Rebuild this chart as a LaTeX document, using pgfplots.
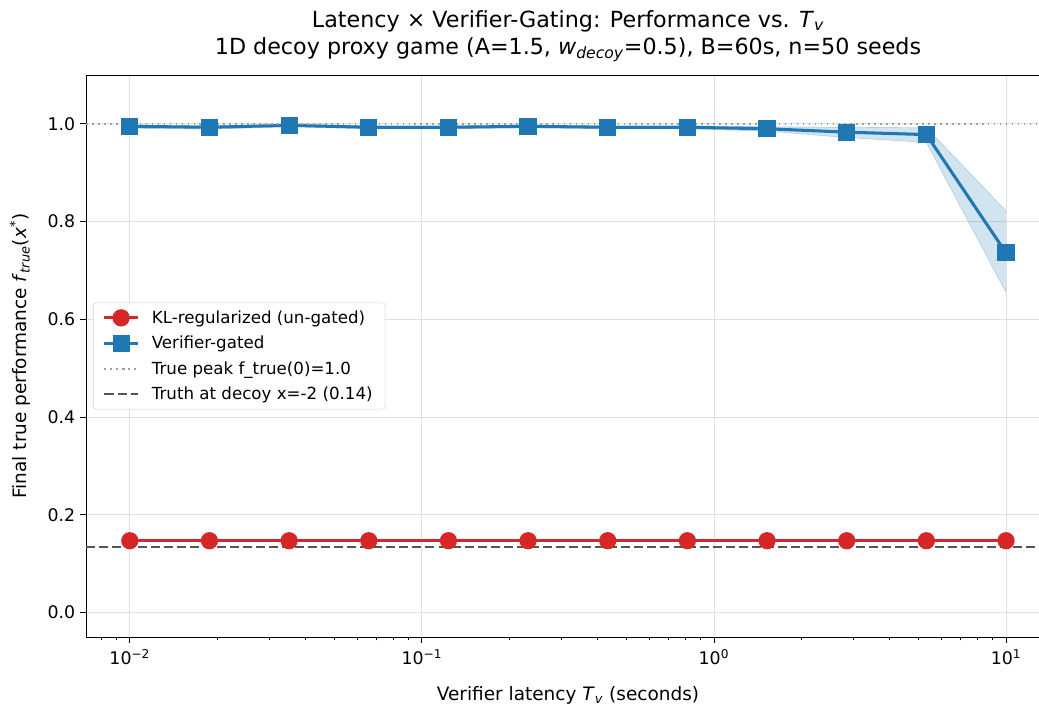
\documentclass[border=0pt]{standalone}
\usepackage{pgfplots}
\usepackage{pgfplotstable}
\pgfplotsset{compat=1.18}
\usepgfplotslibrary{fillbetween}
\usepackage{fontspec}
\setmainfont{DejaVu Sans}

\definecolor{tabblue}{HTML}{1F77B4}
\definecolor{tabred}{HTML}{D62728}
\definecolor{peakgray}{HTML}{A0A0A0}
\definecolor{decoygray}{HTML}{555555}

% Verifier latency sweep (log-spaced), mean final true performance over seeds
\pgfplotstableread{
Tv        kl     gated  lo     hi
0.010000  0.147  0.995  0.991  0.998
0.018738  0.147  0.993  0.989  0.996
0.035112  0.147  0.997  0.994  0.999
0.065793  0.147  0.993  0.990  0.996
0.123285  0.147  0.993  0.990  0.996
0.231013  0.147  0.995  0.992  0.998
0.432876  0.147  0.993  0.990  0.996
0.811131  0.147  0.993  0.990  0.996
1.519911  0.147  0.990  0.985  0.994
2.848036  0.147  0.983  0.972  0.993
5.336699  0.147  0.978  0.962  0.992
10.00000  0.147  0.736  0.655  0.822
}\results

\begin{document}
\begin{tikzpicture}
\begin{axis}[
  scale only axis,
  width=686.16pt, height=404.64pt,
  xmode=log,
  xmin=0.0070795, xmax=12.97,
  ymin=-0.05, ymax=1.1,
  axis y line*=left,
  axis line style={line width=0.7pt, black},
  tick pos=left,
  tick align=outside,
  major tick length=4.3pt,
  minor tick length=2.5pt,
  every tick/.style={black, line width=0.6pt},
  xtick={0.01,0.1,1,10},
  xticklabels={10\textsuperscript{−2},10\textsuperscript{−1},10\textsuperscript{0},10\textsuperscript{1}},
  minor xtick={0.008,0.009,0.02,0.03,0.04,0.05,0.06,0.07,0.08,0.09,
               0.2,0.3,0.4,0.5,0.6,0.7,0.8,0.9,2,3,4,5,6,7,8,9},
  ytick={0,0.2,0.4,0.6,0.8,1.0},
  yticklabel style={/pgf/number format/.cd, fixed, fixed zerofill, precision=1, assume math mode=true},
  ticklabel style={font=\fontsize{12.5}{15}\selectfont},
  xticklabel style={yshift=-1pt},
  grid=major,
  major grid style={black!12, line width=0.6pt},
  xlabel={Verifier latency \textit{T}\textsubscript{\textit{v}} (seconds)},
  xlabel style={at={(rel axis cs:0.5058,0)}, anchor=base, yshift=-46pt, font=\fontsize{13.3}{16}\selectfont},
  ylabel={Final true performance \textit{f}\textsubscript{\textit{true}}(\textit{x}\textsuperscript{*})},
  ylabel style={at={(rel axis cs:0,0.5)}, anchor=center, yshift=47.5pt, font=\fontsize{13.3}{16}\selectfont},
  legend image code/.code={\draw[#1, mark repeat=2, mark phase=2] plot coordinates {(0pt,0pt) (12pt,0pt) (24pt,0pt)};},
  legend style={
    at={(0.0073,0.5)}, anchor=west,
    draw=black!18, rounded corners=2pt,
    fill=white,
    font=\fontsize{12}{14}\selectfont,
    cells={anchor=west},
    /tikz/every odd column/.append style={column sep=7pt},
    row sep=3.7pt, inner xsep=7pt, inner ysep=3.5pt,
  },
]
% seed spread band for the gated runs
\addplot [name path=hi, draw=tabblue, draw opacity=0.25, line width=0.5pt, forget plot] table [x=Tv, y=hi] {\results};
\addplot [name path=lo, draw=tabblue, draw opacity=0.25, line width=0.5pt, forget plot] table [x=Tv, y=lo] {\results};
\addplot [fill=tabblue, fill opacity=0.2, draw=none, forget plot] fill between [of=hi and lo];

\addplot [tabred, line width=2.2pt, mark=*, mark size=5.1pt, mark options={solid, fill=tabred, draw=none}]
  table [x=Tv, y=kl] {\results};
\addlegendentry{KL-regularized (un-gated)}

\addplot [tabblue, line width=2.2pt, mark=square*, mark size=5.1pt, mark options={solid, fill=tabblue, draw=none}]
  table [x=Tv, y=gated] {\results};
\addlegendentry{Verifier-gated}

\addplot [peakgray, line width=1.2pt, dash pattern=on 1.2pt off 3.1pt] coordinates {(0.0070795,1.0) (12.97,1.0)};
\addlegendentry{True peak f\_true(0)=1.0}

\addplot [decoygray, line width=1.4pt, dash pattern=on 6.5pt off 2.9pt] coordinates {(0.0070795,0.135) (12.97,0.135)};
\addlegendentry{Truth at decoy x=-2 (0.14)}
\end{axis}
\node[anchor=base, font=\fontsize{16}{19}\selectfont] at ([xshift=347.06pt, yshift=34.5pt]current axis.north west)
  {Latency × Verifier-Gating: Performance vs. \textit{T}\textsubscript{\textit{v}}};
\node[anchor=base, font=\fontsize{16}{19}\selectfont] at ([xshift=347.06pt, yshift=14.4pt]current axis.north west)
  {1D decoy proxy game (A=1.5, \textit{w}\textsubscript{\textit{decoy}}=0.5), B=60s, n=50 seeds};
\pgfresetboundingbox
\useasboundingbox ([shift={(-61.92pt,-51.84pt)}]current axis.south west) rectangle ([shift={(0pt,54pt)}]current axis.north east);
\end{tikzpicture}
\end{document}
